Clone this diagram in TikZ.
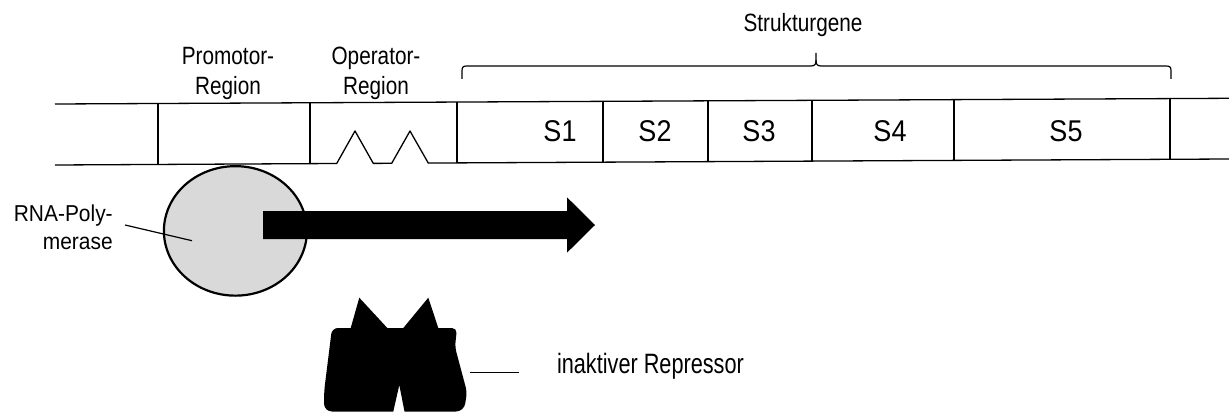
\documentclass[tikz,border=0pt]{standalone}
\usepackage{fontspec}
\setmainfont{Liberation Sans}
\usepackage{graphicx}
\usetikzlibrary{calc,shapes.geometric}
\newcommand\narrowtext[2]{\scalebox{#1}[1]{#2}}
\definecolor{polfill}{RGB}{217,217,217}
\begin{document}
\begin{tikzpicture}[x=1pt,y=-1pt,
  strand/.style={line width=1.3pt, line join=round},
  divider/.style={line width=1.1pt},
  thinline/.style={line width=1.2pt},
  lbl/.style={inner sep=0pt, outer sep=0pt},
  genelbl/.style={lbl, anchor=base, font=\fontsize{30}{36}\selectfont},
  toplbl/.style={lbl, anchor=base, font=\fontsize{25}{30}\selectfont}]
\useasboundingbox (0,0) rectangle (1229,412);

% DNA double line
\coordinate (tl) at (55,104);
\coordinate (tr) at (1229,98.3);
\coordinate (bl) at (55,165);
\coordinate (br) at (1229,159);
\draw[strand] (tl) -- (tr);
% lower line with the operator notches
\draw[strand] (bl) -- (336.7,163.5) -- (355,131) -- (373.3,163.4) -- (391.7,163.3)
  -- (410,131) -- (428.3,163.1) -- (457,162.9) -- (br);

% region dividers
\foreach \x/\yt/\yb in {158/103.5/164.5, 310/102.8/163.7, 457/102.0/162.9,
  603/101.3/162.2, 708/100.8/161.7, 812/100.3/161.1, 954/99.6/160.4, 1170/98.6/159.3}
  \draw[divider] (\x,\yt) -- (\x,\yb);

% structural genes
\node[genelbl] (s1) at (560,141.7) {\narrowtext{0.9}{S1}};
\node[genelbl] (s2) at (655,141.7) {\narrowtext{0.9}{S2}};
\node[genelbl] (s3) at (759,141.7) {\narrowtext{0.9}{S3}};
\node[genelbl] (s4) at (890,141.7) {\narrowtext{0.9}{S4}};
\node[genelbl] (s5) at (1066,141.7) {\narrowtext{0.9}{S5}};

% region labels
\node[toplbl] (prom) at (228,65)
  {\narrowtext{0.83}{\begin{tabular}[t]{@{}c@{}}Promotor-\\Region\end{tabular}}};
\node[toplbl] (oper) at (376,65)
  {\narrowtext{0.83}{\begin{tabular}[t]{@{}c@{}}Operator-\\Region\end{tabular}}};

% brace over the structural genes
\draw[thinline] (462,79) -- (462,71) .. controls (462,67) and (463,66) .. (467,66)
  -- (811,66) .. controls (815,66) and (816,64) .. (816,60) -- (816,53);
\draw[thinline] (816,60) .. controls (816,64) and (817,66) .. (821,66)
  -- (1166,66) .. controls (1170,66) and (1171,67) .. (1171,71) -- (1171,79);
\node[toplbl] (struk) at (803,31.7) {\narrowtext{0.83}{Strukturgene}};

% RNA polymerase
\node[draw, ellipse, line width=2.2pt, fill=polfill, minimum width=143pt,
  minimum height=129.5pt, inner sep=0pt] (pol) at (235.4,230.9) {};
\node[lbl, anchor=base east, font=\fontsize{23}{27.5}\selectfont] (rna) at (112.7,221.7)
  {\narrowtext{0.91}{\begin{tabular}[t]{@{}r@{}}RNA-Poly-\\merase\end{tabular}}};
\coordinate (rnatail) at (125,225);
\coordinate (polpt) at (192,240.7);
\draw[thinline] (rnatail) -- (polpt);

% direction of transcription
\coordinate (txstart) at (263,225);
\coordinate (txend) at (595,225);
\fill ($(txstart)+(0,-14)$) -- ($(txend)+(-28,-14)$) -- ($(txend)+(-28,-27.7)$)
  -- (txend) -- ($(txend)+(-28,27.7)$) -- ($(txend)+(-28,14)$)
  -- ($(txstart)+(0,14)$) -- cycle;

% inactive repressor
\fill (340,328) -- (350.7,328) -- (359.3,297.7) -- (387.3,328) -- (403.3,328)
  -- (428.3,297.7) -- (438.3,328)
  [rounded corners=5pt] -- (457,328) -- (455,347) -- (467,392)
  [rounded corners=8pt] -- (464,411.5)
  [sharp corners] -- (404.5,411.5) -- (399.3,385) -- (393.3,411.5)
  [rounded corners=8pt] -- (324,411.5) -- (324,392)
  [rounded corners=6pt] -- (332,328) -- (345,328) [sharp corners] -- cycle;
\coordinate (repside) at (470,372.3);
\coordinate (reptail) at (519,372.3);
\draw[thinline] (repside) -- (reptail);
\node[lbl, anchor=base west, font=\fontsize{28}{34}\selectfont] (replbl) at (557,373.3)
  {\narrowtext{0.775}{inaktiver Repressor}};
\end{tikzpicture}
\end{document}
